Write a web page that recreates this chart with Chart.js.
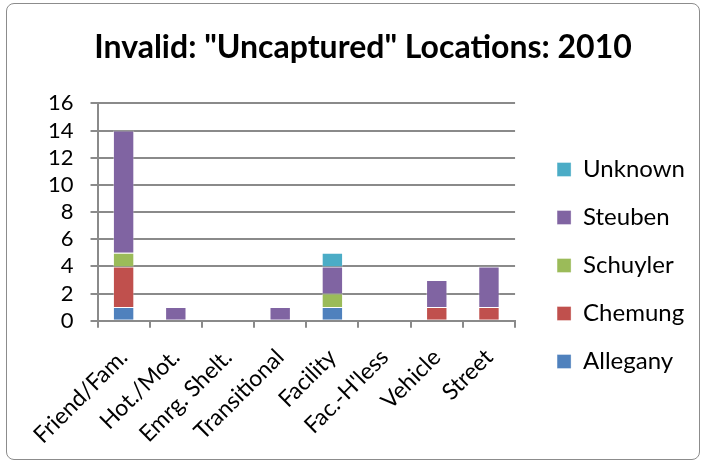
<!DOCTYPE html>
<html>
<head>
<meta charset="utf-8">
<script src="https://cdn.jsdelivr.net/npm/chart.js@4/dist/chart.umd.min.js"></script>
<style>
  html, body { margin: 0; padding: 0; background: #fff; }
  .frame {
    position: absolute; left: 6px; top: 3px; width: 692px; height: 455px;
    border: 1px solid #8c8c8c; border-radius: 8px; overflow: hidden;
  }
  canvas { display: block; }
</style>
</head>
<body>
<div class="frame"><canvas id="chart" width="692" height="455"></canvas></div>
<script>
const categories = ['Friend/Fam.', 'Hot./Mot.', 'Emrg. Shelt.', 'Transitional', 'Facility', 'Fac.-H\'less', 'Vehicle', 'Street']
const allegany = [1, 0, 0, 0, 1, 0, 0, 0]
const chemung = [3, 0, 0, 0, 0, 0, 1, 1]
const schuyler = [1, 0, 0, 0, 1, 0, 0, 0]
const steuben = [9, 1, 0, 1, 2, 0, 2, 3]
const unknown = [0, 0, 0, 0, 1, 0, 0, 0]

const fontFamily = 'Lato, "Liberation Sans", sans-serif'
const gridColor = '#8a8a8a'

const series = [
  { label: 'Allegany', data: allegany, color: '#4F81BD' },
  { label: 'Chemung', data: chemung, color: '#C0504D' },
  { label: 'Schuyler', data: schuyler, color: '#9BBB59' },
  { label: 'Steuben', data: steuben, color: '#8064A2' },
  { label: 'Unknown', data: unknown, color: '#4BACC6' }
]

// nudge the legend down so it sits beside the lower half of the plot
const legendShift = {
  id: 'legendShift',
  beforeDraw (chart) {
    const l = chart.legend
    if (l && !l._shifted) {
      l.top += 31
      l.bottom += 31
      l._shifted = true
    }
  },
  afterUpdate (chart) {
    if (chart.legend) chart.legend._shifted = false
  }
}

new Chart(document.getElementById('chart').getContext('2d'), {
  type: 'bar',
  data: {
    labels: categories,
    datasets: series.map(s => ({
      label: s.label,
      data: s.data,
      backgroundColor: s.color,
      borderColor: 'rgba(255,255,255,0.35)',
      borderWidth: 1,
      categoryPercentage: 1,
      barPercentage: 0.41
    }))
  },
  options: {
    responsive: false,
    animation: false,
    layout: { padding: { left: 24, right: 4, top: 0, bottom: -6 } },
    scales: {
      x: {
        stacked: true,
        grid: {
          offset: true,
          drawOnChartArea: false,
          drawTicks: true,
          tickLength: 7,
          color: gridColor,
          lineWidth: 2
        },
        border: { color: gridColor, width: 2 },
        ticks: {
          color: '#000',
          font: { family: fontFamily, size: 23 },
          maxRotation: 45,
          minRotation: 45,
          autoSkip: false,
          padding: 16
        }
      },
      y: {
        stacked: true,
        min: 0,
        max: 16,
        grid: {
          color: gridColor,
          lineWidth: 2,
          tickLength: 7
        },
        border: { color: gridColor, width: 2 },
        ticks: {
          stepSize: 2,
          autoSkip: false,
          color: '#000',
          font: { family: fontFamily, size: 22 },
          padding: 17
        }
      },
      // empty spacer between plot and legend
      gap: {
        position: 'right',
        grid: { display: false },
        border: { display: false },
        ticks: { display: false },
        afterFit (scale) { scale.width = 18 }
      }
    },
    plugins: {
      title: {
        display: true,
        text: 'Invalid: "Uncaptured" Locations: 2010',
        color: '#000',
        font: { family: fontFamily, size: 32, weight: 'bold' },
        padding: { top: 24, bottom: 37 }
      },
      legend: {
        position: 'right',
        reverse: true,
        maxWidth: 220,
        labels: {
          color: '#000',
          font: { family: fontFamily, size: 24 },
          boxWidth: 14,
          boxHeight: 14,
          padding: 24
        }
      },
      tooltip: { enabled: false }
    }
  },
  plugins: [legendShift]
})
</script>
</body>
</html>
